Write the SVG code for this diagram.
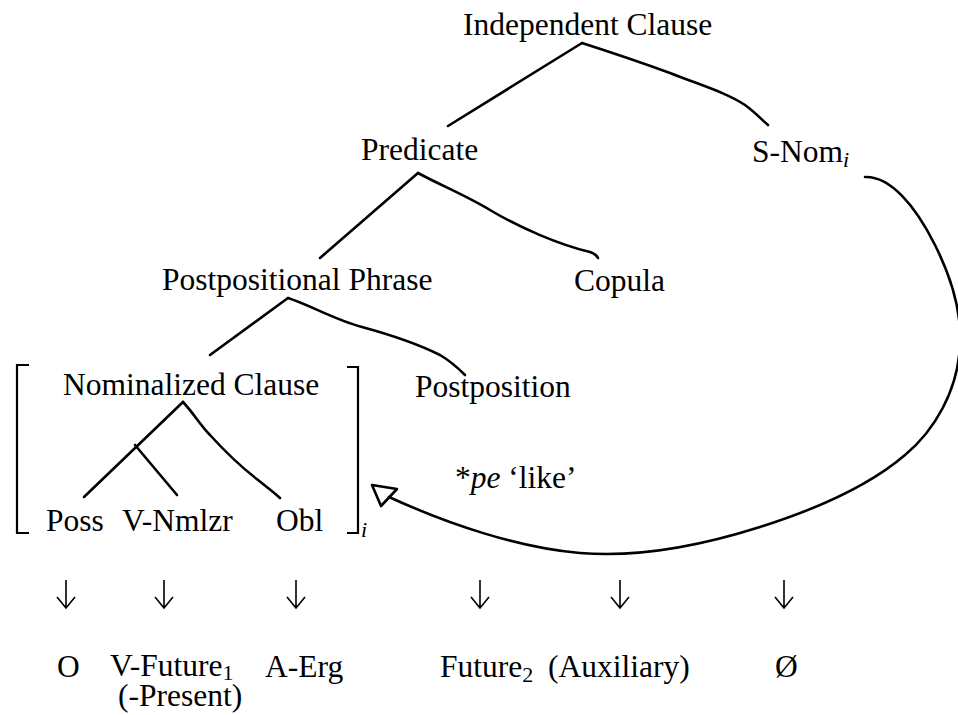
<svg xmlns="http://www.w3.org/2000/svg" width="958" height="715" viewBox="0 0 958 715">
<style>
text{font-family:"Liberation Serif","Times New Roman",serif;font-size:31.5px;fill:#000}
.sub{font-size:22px}
.it{font-style:italic}
.ln{fill:none;stroke:#000;stroke-width:2.6;stroke-linecap:round;stroke-linejoin:round}
.br{fill:none;stroke:#000;stroke-width:2.2}
.dn{fill:none;stroke:#000;stroke-width:1.6;stroke-linejoin:miter}
</style>
<rect width="958" height="715" fill="#fff"/>
<g id="connectors">
<path class="ln" d="M448,126 L582,43"/>
<path class="ln" d="M582,43 C610,52 640,62 670,73 C700,85 725,92 745,105 C756,113 762,120 768,125"/>
<path class="ln" d="M320,258 L418,173"/>
<path class="ln" d="M418,173 C440,185 465,195 490,210 C520,228 560,245 590,252 Q596,254 598,258"/>
<path class="ln" d="M210,355 L288,298"/>
<path class="ln" d="M288,298 C310,305 335,320 362,327 C395,336 420,345 440,355 C452,362 460,370 465,375"/>
<path class="ln" d="M84,497 L183,402"/>
<path class="ln" d="M135,445 L177,495"/>
<path class="ln" d="M183,402 C195,415 200,425 210,435 C230,457 245,470 258,480 C268,488 275,493 280,498"/>
<path class="ln" d="M865,177 C890,176 915,205 935,245 C950,275 962,310 960,345 C958,390 935,430 905,455 C870,485 820,508 760,527 C700,546 640,558 580,553 C520,548 450,525 389,497"/>
<polygon class="ln" points="372,485 397,489 381,506" fill="#fff"/>
<path class="dn" d="M66,580 V608 M57,597 L66,608 L75,597"/>
<path class="dn" d="M164,580 V608 M155,597 L164,608 L173,597"/>
<path class="dn" d="M296,580 V608 M287,597 L296,608 L305,597"/>
<path class="dn" d="M480,580 V608 M471,597 L480,608 L489,597"/>
<path class="dn" d="M620,580 V608 M611,597 L620,608 L629,597"/>
<path class="dn" d="M784,580 V608 M775,597 L784,608 L793,597"/>
</g>
<g id="n-ic"><text x="463" y="35">Independent Clause</text></g>
<g id="n-pred"><text x="361" y="160">Predicate</text></g>
<g id="n-snom"><text x="752" y="162">S-Nom<tspan class="sub it" dy="5">i</tspan></text></g>
<g id="n-pp"><text x="162" y="290">Postpositional Phrase</text></g>
<g id="n-cop"><text x="574" y="291">Copula</text></g>
<g id="n-bracket">
<path class="br" d="M29,365 H17 V533 H29"/>
<path class="br" d="M347,367 H358 V533 H347"/>
<text class="sub it" x="361" y="537">i</text>
</g>
<g id="n-nc"><text x="63" y="395">Nominalized Clause</text></g>
<g id="n-postp"><text x="415" y="397">Postposition</text></g>
<g id="n-poss"><text x="46" y="531">Poss</text></g>
<g id="n-vnm"><text x="122" y="531">V-Nmlzr</text></g>
<g id="n-obl"><text x="276" y="531">Obl</text></g>
<g id="n-pe"><text x="455" y="488">*<tspan class="it">pe</tspan> ‘like’</text></g>
<g id="n-o"><text x="57" y="677">O</text></g>
<g id="n-vfut"><text x="110" y="676">V-Future<tspan class="sub" dy="4">1</tspan></text><text x="118" y="706">(-Present)</text></g>
<g id="n-aerg"><text x="265" y="677">A-Erg</text></g>
<g id="n-fut2"><text x="440" y="677">Future<tspan class="sub" dy="5">2</tspan></text></g>
<g id="n-aux"><text x="548" y="677">(Auxiliary)</text></g>
<g id="n-null"><text x="775" y="677">Ø</text></g>
</svg>
